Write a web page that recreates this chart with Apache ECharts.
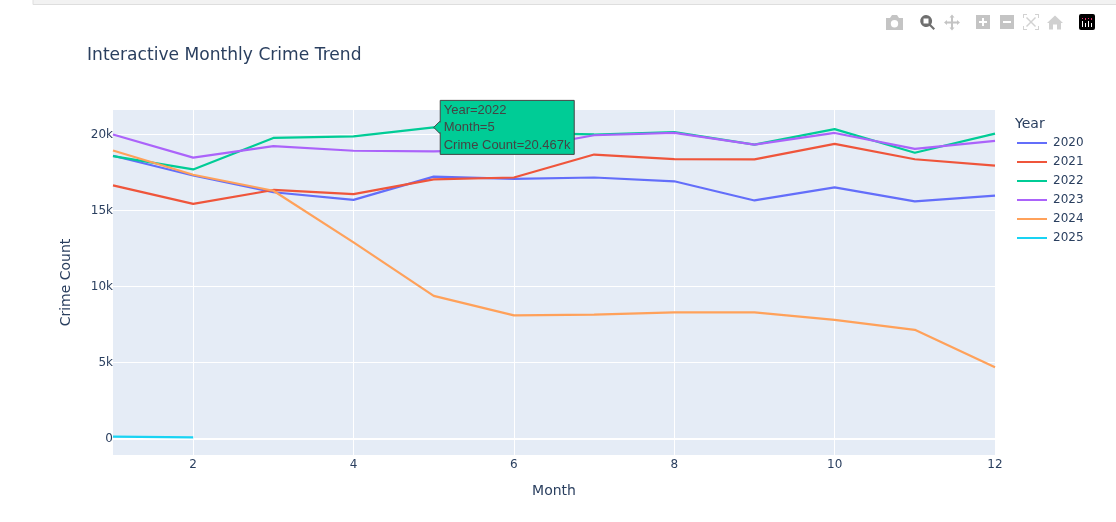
<!DOCTYPE html>
<html><head><meta charset="utf-8">
<style>html,body{margin:0;padding:0;background:#fff}#c{width:1116px;height:522px}</style>
<script src="https://cdn.jsdelivr.net/npm/echarts@6/dist/echarts.min.js"></script>
</head><body><div id="c"></div>
<script>
const months = [1,2,3,4,5,6,7,8,9,10,11,12];
const y2020 = [18600,17300,16200,15700,17230,17080,17170,16920,15660,16520,15600,15980];
const y2021 = [16650,15430,16350,16080,17050,17170,18680,18380,18360,19380,18370,17950];
const y2022 = [18580,17700,19770,19880,20467,20100,20000,20150,19330,20350,18800,20060];
const y2023 = [20000,18480,19230,18930,18890,19000,19950,20100,19330,20100,19050,19580];
const y2024 = [18950,17350,16300,12900,9380,8100,8150,8300,8300,7800,7150,4680];
const y2025 = [120,70];
const years = ['2020','2021','2022','2023','2024','2025'];
const values = [y2020,y2021,y2022,y2023,y2024,y2025];
const xTicks = [2,4,6,8,10,12];
const yTicks = [0,5000,10000,15000,20000];
const colors = ['#636EFA','#EF553B','#00CC96','#AB63FA','#FFA15A','#19D3F3'];
const FONT = '"DejaVu Sans", Verdana, sans-serif';
const TICK = '#2a3f5f';

const chart = echarts.init(document.getElementById('c'), null, {renderer:'canvas'});
const series = years.map((y,i)=>({
  name:y, type:'line', symbol:'none', animation:false, z:3+i,
  lineStyle:{width:2.2,color:colors[i]}, itemStyle:{color:colors[i]},
  data:values[i].map((v,j)=>[months[j],v]),
  markLine: i===0 ? {silent:true,symbol:'none',animation:false,label:{show:false},
    lineStyle:{color:'#fff',width:2,type:'solid'},data:[{yAxis:0}]} : undefined
}));
chart.setOption({
  animation:false,
  backgroundColor:'#fff',
  title:[
    {text:'Interactive Monthly Crime Trend',left:82,top:42,textStyle:{fontFamily:FONT,fontSize:17.1,fontWeight:'normal',color:TICK}},
    {text:'Year',left:1010,top:112,textStyle:{fontFamily:FONT,fontSize:14,fontWeight:'normal',color:TICK}}
  ],
  grid:{left:113,right:121,top:110,bottom:67,show:true,backgroundColor:'#E5ECF6',borderWidth:0},
  legend:{orient:'vertical',left:1012,top:132,itemWidth:30,itemHeight:10,itemGap:7,
    data:years,icon:'path://M0 4H30V6H0Z',
    textStyle:{fontFamily:FONT,fontSize:12,color:TICK,padding:[0,0,0,1]}},
  xAxis:{type:'value',min:1,max:12,name:'Month',nameLocation:'middle',nameGap:29,
    nameTextStyle:{fontFamily:FONT,fontSize:14,color:TICK},
    axisLine:{show:false},axisTick:{show:false,customValues:xTicks},
    axisLabel:{fontFamily:FONT,fontSize:12,color:TICK,margin:4,customValues:xTicks,hideOverlap:false},
    splitLine:{show:true,lineStyle:{color:'#fff',width:1}}},
  yAxis:{type:'value',min:-1085,max:21610,name:'Crime Count',nameLocation:'middle',nameGap:40,
    nameTextStyle:{fontFamily:FONT,fontSize:14,color:TICK},
    axisLine:{show:false},axisTick:{show:false,customValues:yTicks},
    axisLabel:{fontFamily:FONT,fontSize:12,color:TICK,margin:0,customValues:yTicks,padding:[3,0,0,0],
      formatter:v=>v===0?'0':(v/1000)+'k'},
    splitLine:{show:true,lineStyle:{color:'#fff',width:1}}},
  series
});

const p = chart.convertToPixel({xAxisIndex:0,yAxisIndex:0},[months[4],y2022[4]]);
const gray='#c4c4c4', dark='#6f6f6f';
let n=0;
const icon=(d,x,y,c)=>{const name='mb'+(n++);
  echarts.graphic.registerShape(name,echarts.graphic.extendPath(d,{}));
  return {type:name,z:50,x:x,y:y,style:{fill:c}};};
chart.setOption({graphic:{elements:[
  {type:'rect',z:1,shape:{x:33,y:-2,width:1090,height:6.5},style:{fill:'#f2f2f2',stroke:'#dedede',lineWidth:1}},
  icon('M0 3H4L6 0H11L13 3H17V15H0ZM8.5 5A3.7 3.7 0 1 0 8.5 12.4A3.7 3.7 0 1 0 8.5 5Z',886,15,gray),
  icon('M7 1A6 6 0 0 1 12 10.5L16 14.5L14.5 16L10.5 12A6 6 0 1 1 7 1ZM4.5 4.5V9.5H9.5V4.5Z',919,14,dark),
  icon('M8 0L10.5 3H9V7H13V5.5L16 8L13 10.5V9H9V13H10.5L8 16L5.5 13H7V9H3V10.5L0 8L3 5.5V7H7V3H5.5Z',944,14.5,gray),
  icon('M0 0H14V14H0ZM6 3V6H3V8H6V11H8V8H11V6H8V3Z',976,15,gray),
  icon('M0 0H14V14H0ZM3 6V8H11V6Z',1000,15,gray),
  icon('M0 0H4V1H1V4H0ZM12 0H16V4H15V1H12ZM0 12H1V15H4V16H0ZM15 12H16V16H12V15H15ZM4 3L8 7L12 3L13 4L9 8L13 12L12 13L8 9L4 13L3 12L7 8L3 4Z',1023,14,'#d2d2d2'),
  icon('M8 1L16 8.5H14V15H10V10H6V15H2V8.5H0Z',1047,14.5,'#d0d0d0'),
  {type:'rect',z:50,shape:{x:1079,y:14,width:16,height:16,r:2},style:{fill:'#000'}},
  icon('M3 7H4V13H3ZM6 9H7V13H6ZM9 7H10V13H9ZM12 9H13V13H12Z',1079,14,'#fff'),
  icon('M3 4H4V5H3ZM6 4H7V6H6ZM9 4H10V5H9ZM12 4H13V6H12Z',1079,14,'#e8336d'),
  // hover label anchored on the hovered point
  {type:'polygon',z:60,shape:{points:[[p[0],p[1]],[p[0]+6,p[1]-6],[p[0]+6,p[1]+6]]},style:{fill:'#00CC96',stroke:'#444',lineWidth:1}},
  {type:'rect',z:60,shape:{x:p[0]+6.5,y:p[1]-27,width:134,height:54},style:{fill:'#00CC96',stroke:'#444',lineWidth:1}},
  {type:'rect',z:61,shape:{x:p[0]+5,y:p[1]-5,width:2.5,height:10},style:{fill:'#00CC96'}},
  {type:'text',z:62,x:p[0]+10,y:p[1]-26,style:{text:'Year=2022\nMonth=5\nCrime Count=20.467k',fill:'#444',
    font:'13px "Liberation Sans", Arial, sans-serif',lineHeight:17.6}}
]}});
</script></body></html>
